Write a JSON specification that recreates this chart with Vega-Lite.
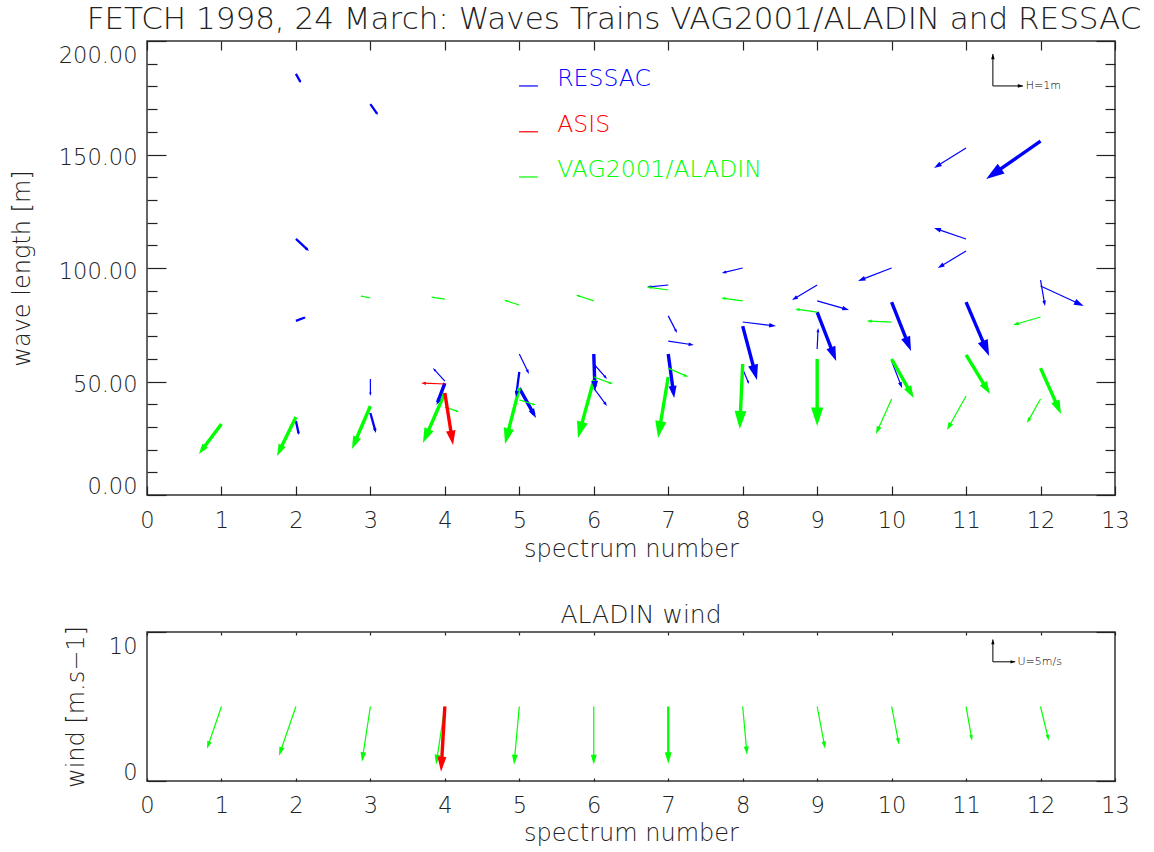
{
  "$schema": "https://vega.github.io/schema/vega-lite/v6.json",
  "padding": {"left": 9, "top": 3, "right": 5, "bottom": 3},
  "spacing": 38,
  "config": {
    "font": "DejaVu Sans",
    "view": {"stroke": "#333", "strokeWidth": 1.5},
    "axis": {"domain": false, "grid": false, "tickColor": "#222", "tickWidth": 1.2, "labelFontSize": 22.5, "labelColor": "#222", "labelFontWeight": 200, "titleFontSize": 24, "titleFontWeight": 200, "titleColor": "#222"},
    "title": {"fontWeight": 200, "color": "#222"},
    "text": {"fontWeight": 200}
  },
  "datasets": {
    "waves": [
      {"src": "RESSAC", "x": 2, "y": 185.5, "x2": 2.068, "y2": 181.5, "w": 2},
      {"src": "RESSAC", "x": 2, "y": 112.8, "x2": 2.176, "y2": 107.5, "w": 2},
      {"src": "RESSAC", "x": 2, "y": 76.7, "x2": 2.135, "y2": 78.4, "w": 2},
      {"src": "RESSAC", "x": 2, "y": 32.6, "x2": 2.041, "y2": 26.4, "w": 2},
      {"src": "RESSAC", "x": 3, "y": 172.2, "x2": 3.102, "y2": 167.4, "w": 2},
      {"src": "RESSAC", "x": 3, "y": 51.1, "x2": 3.0, "y2": 43.6, "w": 1},
      {"src": "RESSAC", "x": 3, "y": 36.1, "x2": 3.075, "y2": 27.3, "w": 2},
      {"src": "RESSAC", "x": 4, "y": 50.2, "x2": 3.84, "y2": 55.9, "w": 1},
      {"src": "RESSAC", "x": 4, "y": 49.3, "x2": 3.89, "y2": 39.6, "w": 3},
      {"src": "RESSAC", "x": 5, "y": 62.1, "x2": 5.13, "y2": 53.3, "w": 1},
      {"src": "RESSAC", "x": 5, "y": 54.2, "x2": 4.956, "y2": 43.2, "w": 2},
      {"src": "RESSAC", "x": 5, "y": 47.1, "x2": 5.224, "y2": 33.9, "w": 3},
      {"src": "RESSAC", "x": 6, "y": 62.1, "x2": 6.017, "y2": 45.8, "w": 3},
      {"src": "RESSAC", "x": 6, "y": 57.7, "x2": 6.178, "y2": 51.1, "w": 1},
      {"src": "RESSAC", "x": 6, "y": 47.1, "x2": 6.178, "y2": 39.2, "w": 1},
      {"src": "RESSAC", "x": 7, "y": 78.9, "x2": 7.118, "y2": 71.4, "w": 1},
      {"src": "RESSAC", "x": 7, "y": 67.8, "x2": 7.344, "y2": 66.1, "w": 1},
      {"src": "RESSAC", "x": 7, "y": 62.1, "x2": 7.08, "y2": 42.7, "w": 3},
      {"src": "RESSAC", "x": 7, "y": 92.5, "x2": 6.715, "y2": 91.6, "w": 1},
      {"src": "RESSAC", "x": 8, "y": 76.2, "x2": 8.447, "y2": 74.4, "w": 1},
      {"src": "RESSAC", "x": 8, "y": 74.4, "x2": 8.192, "y2": 50.7, "w": 3},
      {"src": "RESSAC", "x": 8, "y": 55.5, "x2": 8.085, "y2": 48.9, "w": 1},
      {"src": "RESSAC", "x": 8, "y": 100.0, "x2": 7.72, "y2": 97.8, "w": 1},
      {"src": "RESSAC", "x": 9, "y": 92.5, "x2": 8.662, "y2": 85.9, "w": 1},
      {"src": "RESSAC", "x": 9, "y": 85.5, "x2": 9.428, "y2": 81.5, "w": 1},
      {"src": "RESSAC", "x": 9, "y": 80.6, "x2": 9.255, "y2": 59.0, "w": 3},
      {"src": "RESSAC", "x": 9, "y": 64.3, "x2": 9.013, "y2": 73.6, "w": 1},
      {"src": "RESSAC", "x": 10, "y": 100.0, "x2": 9.549, "y2": 94.3, "w": 1},
      {"src": "RESSAC", "x": 10, "y": 85.0, "x2": 10.26, "y2": 63.4, "w": 3},
      {"src": "RESSAC", "x": 10, "y": 59.0, "x2": 10.14, "y2": 47.1, "w": 1},
      {"src": "RESSAC", "x": 11, "y": 152.9, "x2": 10.57, "y2": 144.1, "w": 1},
      {"src": "RESSAC", "x": 11, "y": 112.8, "x2": 10.57, "y2": 117.6, "w": 1},
      {"src": "RESSAC", "x": 11, "y": 107.5, "x2": 10.62, "y2": 100.0, "w": 1},
      {"src": "RESSAC", "x": 11, "y": 85.0, "x2": 11.31, "y2": 61.2, "w": 3},
      {"src": "RESSAC", "x": 12, "y": 155.9, "x2": 11.27, "y2": 139.2, "w": 3},
      {"src": "RESSAC", "x": 12, "y": 94.7, "x2": 12.06, "y2": 83.3, "w": 1},
      {"src": "RESSAC", "x": 12, "y": 92.1, "x2": 12.58, "y2": 83.3, "w": 1},
      {"src": "VAG2001/ALADIN", "x": 1, "y": 31.3, "x2": 0.698, "y2": 18.1, "w": 3},
      {"src": "VAG2001/ALADIN", "x": 2, "y": 34.4, "x2": 1.746, "y2": 17.2, "w": 3},
      {"src": "VAG2001/ALADIN", "x": 3, "y": 39.2, "x2": 2.753, "y2": 20.3, "w": 3},
      {"src": "VAG2001/ALADIN", "x": 3, "y": 86.8, "x2": 2.861, "y2": 87.7, "w": 1},
      {"src": "VAG2001/ALADIN", "x": 4, "y": 44.9, "x2": 3.706, "y2": 22.9, "w": 3},
      {"src": "VAG2001/ALADIN", "x": 4, "y": 38.8, "x2": 4.19, "y2": 36.6, "w": 1},
      {"src": "VAG2001/ALADIN", "x": 4, "y": 86.3, "x2": 3.813, "y2": 87.2, "w": 1},
      {"src": "VAG2001/ALADIN", "x": 5, "y": 47.1, "x2": 4.808, "y2": 22.5, "w": 3},
      {"src": "VAG2001/ALADIN", "x": 5, "y": 41.9, "x2": 5.224, "y2": 39.6, "w": 1},
      {"src": "VAG2001/ALADIN", "x": 5, "y": 83.7, "x2": 4.795, "y2": 85.9, "w": 1},
      {"src": "VAG2001/ALADIN", "x": 6, "y": 50.7, "x2": 5.788, "y2": 25.1, "w": 3},
      {"src": "VAG2001/ALADIN", "x": 6, "y": 52.0, "x2": 6.258, "y2": 48.9, "w": 1},
      {"src": "VAG2001/ALADIN", "x": 6, "y": 85.5, "x2": 5.761, "y2": 88.1, "w": 1},
      {"src": "VAG2001/ALADIN", "x": 7, "y": 52.0, "x2": 6.863, "y2": 25.1, "w": 3},
      {"src": "VAG2001/ALADIN", "x": 7, "y": 55.9, "x2": 7.268, "y2": 52.0, "w": 1},
      {"src": "VAG2001/ALADIN", "x": 7, "y": 90.3, "x2": 6.715, "y2": 91.6, "w": 1},
      {"src": "VAG2001/ALADIN", "x": 8, "y": 57.7, "x2": 7.96, "y2": 29.1, "w": 3},
      {"src": "VAG2001/ALADIN", "x": 8, "y": 85.5, "x2": 7.709, "y2": 86.8, "w": 1},
      {"src": "VAG2001/ALADIN", "x": 9, "y": 59.9, "x2": 9.0, "y2": 30.4, "w": 3},
      {"src": "VAG2001/ALADIN", "x": 9, "y": 80.6, "x2": 8.703, "y2": 81.9, "w": 1},
      {"src": "VAG2001/ALADIN", "x": 10, "y": 59.9, "x2": 10.296, "y2": 42.7, "w": 3},
      {"src": "VAG2001/ALADIN", "x": 10, "y": 76.2, "x2": 9.664, "y2": 76.7, "w": 1},
      {"src": "VAG2001/ALADIN", "x": 10, "y": 42.3, "x2": 9.79, "y2": 26.9, "w": 1},
      {"src": "VAG2001/ALADIN", "x": 11, "y": 61.7, "x2": 11.32, "y2": 44.5, "w": 3},
      {"src": "VAG2001/ALADIN", "x": 11, "y": 43.6, "x2": 10.744, "y2": 28.6, "w": 1},
      {"src": "VAG2001/ALADIN", "x": 12, "y": 55.9, "x2": 12.275, "y2": 35.7, "w": 3},
      {"src": "VAG2001/ALADIN", "x": 12, "y": 42.3, "x2": 11.818, "y2": 31.7, "w": 1},
      {"src": "VAG2001/ALADIN", "x": 12, "y": 78.4, "x2": 11.63, "y2": 74.9, "w": 1},
      {"src": "ASIS", "x": 4, "y": 48.9, "x2": 3.68, "y2": 49.3, "w": 1},
      {"src": "ASIS", "x": 4, "y": 44.9, "x2": 4.11, "y2": 22.0, "w": 3}
    ],
    "wind": [
      {"src": "VAG2001/ALADIN", "x": 1, "y": 5, "x2": 0.806, "y2": 2.17, "w": 1},
      {"src": "VAG2001/ALADIN", "x": 2, "y": 5, "x2": 1.773, "y2": 1.7, "w": 1},
      {"src": "VAG2001/ALADIN", "x": 3, "y": 5, "x2": 2.887, "y2": 1.3, "w": 1},
      {"src": "VAG2001/ALADIN", "x": 4, "y": 5, "x2": 3.882, "y2": 1.1, "w": 1},
      {"src": "VAG2001/ALADIN", "x": 5, "y": 5, "x2": 4.929, "y2": 1.1, "w": 1},
      {"src": "VAG2001/ALADIN", "x": 6, "y": 5, "x2": 6.0, "y2": 1.1, "w": 1},
      {"src": "VAG2001/ALADIN", "x": 7, "y": 5, "x2": 7.0, "y2": 1.16, "w": 2},
      {"src": "VAG2001/ALADIN", "x": 8, "y": 5, "x2": 8.058, "y2": 1.76, "w": 1},
      {"src": "VAG2001/ALADIN", "x": 9, "y": 5, "x2": 9.107, "y2": 2.17, "w": 1},
      {"src": "VAG2001/ALADIN", "x": 10, "y": 5, "x2": 10.1, "y2": 2.44, "w": 1},
      {"src": "VAG2001/ALADIN", "x": 11, "y": 5, "x2": 11.08, "y2": 2.7, "w": 1},
      {"src": "VAG2001/ALADIN", "x": 12, "y": 5, "x2": 12.11, "y2": 2.7, "w": 1},
      {"src": "ASIS", "x": 4, "y": 5, "x2": 3.949, "y2": 0.62, "w": 3}
    ],
    "legend": [
      {"src": "RESSAC", "lx": 4.996, "lx2": 5.25, "tx": 5.51, "ly": 180.2},
      {"src": "ASIS", "lx": 4.996, "lx2": 5.25, "tx": 5.51, "ly": 160.0},
      {"src": "VAG2001/ALADIN", "lx": 4.996, "lx2": 5.25, "tx": 5.51, "ly": 140.1}
    ],
    "keyTop": [
      {"x": 11.36, "y": 180.2, "x2": 11.36, "y2": 194.3},
      {"x": 11.36, "y": 180.2, "x2": 11.765, "y2": 180.2}
    ],
    "keyBottom": [
      {"x": 11.36, "y": 8.0, "x2": 11.36, "y2": 9.5},
      {"x": 11.36, "y": 8.0, "x2": 11.66, "y2": 8.0}
    ],
    "keyTopLabel": [{"label": "H=1m", "x": 11.8, "y": 180.2}],
    "keyBottomLabel": [{"label": "U=5m/s", "x": 11.69, "y": 8.0}]
  },
  "vconcat": [
    {
      "width": 968,
      "height": 454,
      "title": {"text": "FETCH 1998, 24 March: Waves Trains VAG2001/ALADIN and RESSAC", "fontSize": 31, "baseline": "alphabetic", "offset": -20, "dx": -17},
      "resolve": {"axis": {"x": "independent", "y": "independent"}},
      "layer": [
        {
          "data": {"name": "waves"},
          "transform": [
            {"calculate": "datum.x2 - (datum.x2 - datum.x) * 0.12", "as": "xe"},
            {"calculate": "datum.y2 - (datum.y2 - datum.y) * 0.12", "as": "ye"}
          ],
          "mark": {"type": "rule", "strokeCap": "butt"},
          "encoding": {
            "x": {"field": "x", "type": "quantitative", "scale": {"domain": [0, 13], "nice": false, "zero": false},
              "axis": {"orient": "bottom", "values": [0,1,2,3,4,5,6,7,8,9,10,11,12,13], "tickSize": -9, "labelPadding": 23, "title": "spectrum number", "titlePadding": 6, "labelFlush": false}},
            "y": {"field": "y", "type": "quantitative", "scale": {"domain": [0, 200], "nice": false},
              "axis": {"orient": "left", "values": [0,10,20,30,40,50,60,70,80,90,100,110,120,130,140,150,160,170,180,190,200],
                "tickSize": {"condition": {"test": "datum.value % 50 === 0", "value": -19}, "value": -10},
                "labelExpr": "datum.value % 50 === 0 ? format(datum.value, '.2f') : ''", "labelPadding": 29, "labelFlush": true, "labelOffset": 3, "title": "wave length [m]", "titlePadding": 24}},
            "x2": {"field": "xe"},
            "y2": {"field": "ye"},
            "color": {"field": "src", "type": "nominal", "scale": {"domain": ["RESSAC", "ASIS", "VAG2001/ALADIN"], "range": ["#0000ff", "#ff0000", "#00ff00"]}, "legend": null},
            "strokeWidth": {"field": "w", "type": "quantitative", "scale": {"domain": [1, 3], "range": [1.2, 3.4]}, "legend": null}
          }
        },
        {
          "data": {"name": "waves"},
          "transform": [
            {"calculate": "(datum.x2 - datum.x) * 968 / 13", "as": "dxp"},
            {"calculate": "(datum.y2 - datum.y) * 454 / 200", "as": "dyp"},
            {"calculate": "atan2(datum.dxp, datum.dyp) * 180 / PI", "as": "ang"},
            {"calculate": "pow(sqrt(datum.dxp * datum.dxp + datum.dyp * datum.dyp) * (0.17 + 0.035 * datum.w), 2) * 4", "as": "hs"}
          ],
          "mark": {"type": "point", "shape": "M0,0L-0.33,1L0.33,1Z", "filled": true, "opacity": 1, "strokeWidth": 0},
          "encoding": {
            "x": {"field": "x2", "type": "quantitative", "axis": null},
            "y": {"field": "y2", "type": "quantitative", "axis": null},
            "angle": {"field": "ang", "type": "quantitative", "scale": null},
            "size": {"field": "hs", "type": "quantitative", "scale": null},
            "color": {"field": "src", "type": "nominal", "legend": null}
          }
        },
        {
          "data": {"name": "legend"},
          "mark": {"type": "rule", "strokeWidth": 1.2},
          "encoding": {
            "x": {"field": "lx", "type": "quantitative", "axis": null},
            "x2": {"field": "lx2"},
            "y": {"field": "ly", "type": "quantitative", "axis": null},
            "color": {"field": "src", "type": "nominal", "legend": null}
          }
        },
        {
          "data": {"name": "legend"},
          "mark": {"type": "text", "align": "left", "baseline": "alphabetic", "fontSize": 23.5},
          "encoding": {
            "x": {"field": "tx", "type": "quantitative", "axis": null},
            "y": {"field": "ly", "type": "quantitative", "axis": null},
            "text": {"field": "src"},
            "color": {"field": "src", "type": "nominal", "legend": null}
          }
        },
        {
          "data": {"name": "keyTop"},
          "mark": {"type": "rule", "color": "#000", "strokeWidth": 1},
          "encoding": {
            "x": {"field": "x", "type": "quantitative", "axis": null},
            "y": {"field": "y", "type": "quantitative", "axis": null},
            "x2": {"field": "x2"},
            "y2": {"field": "y2"}
          }
        },
        {
          "data": {"name": "keyTop"},
          "transform": [
            {"calculate": "(datum.x2 - datum.x) * 968 / 13", "as": "dxp"},
            {"calculate": "(datum.y2 - datum.y) * 454 / 200", "as": "dyp"},
            {"calculate": "atan2(datum.dxp, datum.dyp) * 180 / PI", "as": "ang"}
          ],
          "mark": {"type": "point", "shape": "M0,0L-0.35,1L0.35,1Z", "filled": true, "opacity": 1, "strokeWidth": 0, "color": "#000", "size": 110},
          "encoding": {
            "x": {"field": "x2", "type": "quantitative", "axis": null},
            "y": {"field": "y2", "type": "quantitative", "axis": null},
            "angle": {"field": "ang", "type": "quantitative", "scale": null}
          }
        },
        {
          "data": {"name": "keyTopLabel"},
          "mark": {"type": "text", "align": "left", "baseline": "middle", "fontSize": 11, "color": "#000"},
          "encoding": {
            "x": {"field": "x", "type": "quantitative", "axis": null},
            "y": {"field": "y", "type": "quantitative", "axis": null},
            "text": {"field": "label"}
          }
        },
        {
          "data": {"name": "waves"},
          "mark": {"type": "rule", "opacity": 0},
          "encoding": {
            "x": {"field": "x", "type": "quantitative",
              "axis": {"orient": "top", "values": [0,1,2,3,4,5,6,7,8,9,10,11,12,13], "tickSize": -9, "labels": false, "title": null}},
            "y": {"field": "y", "type": "quantitative",
              "axis": {"orient": "right", "values": [0,10,20,30,40,50,60,70,80,90,100,110,120,130,140,150,160,170,180,190,200],
                "tickSize": {"condition": {"test": "datum.value % 50 === 0", "value": -19}, "value": -10}, "labels": false, "title": null}}
          }
        }
      ]
    },
    {
      "width": 968,
      "height": 149,
      "title": {"text": "ALADIN wind", "fontSize": 25, "baseline": "alphabetic", "offset": -22, "dx": 10},
      "resolve": {"axis": {"x": "independent", "y": "independent"}},
      "layer": [
        {
          "data": {"name": "wind"},
          "transform": [
            {"calculate": "datum.x2 - (datum.x2 - datum.x) * 0.12", "as": "xe"},
            {"calculate": "datum.y2 - (datum.y2 - datum.y) * 0.12", "as": "ye"}
          ],
          "mark": {"type": "rule", "strokeCap": "butt"},
          "encoding": {
            "x": {"field": "x", "type": "quantitative", "scale": {"domain": [0, 13], "nice": false, "zero": false},
              "axis": {"orient": "bottom", "values": [0,1,2,3,4,5,6,7,8,9,10,11,12,13], "tickSize": -3, "labelPadding": 16, "labelFlush": false, "title": "spectrum number", "titlePadding": 5}},
            "y": {"field": "y", "type": "quantitative", "scale": {"domain": [0, 10], "nice": false},
              "axis": {"orient": "left", "values": [0, 10], "tickSize": -19, "labelPadding": 29, "labelFlush": true, "labelOffset": 3, "title": "wind [m.s−1]", "titlePadding": 20}},
            "x2": {"field": "xe"},
            "y2": {"field": "ye"},
            "color": {"field": "src", "type": "nominal", "scale": {"domain": ["RESSAC", "ASIS", "VAG2001/ALADIN"], "range": ["#0000ff", "#ff0000", "#00ff00"]}, "legend": null},
            "strokeWidth": {"field": "w", "type": "quantitative", "scale": {"domain": [1, 3], "range": [1.2, 3.4]}, "legend": null}
          }
        },
        {
          "data": {"name": "wind"},
          "transform": [
            {"calculate": "(datum.x2 - datum.x) * 968 / 13", "as": "dxp"},
            {"calculate": "(datum.y2 - datum.y) * 149 / 10", "as": "dyp"},
            {"calculate": "atan2(datum.dxp, datum.dyp) * 180 / PI", "as": "ang"},
            {"calculate": "pow(sqrt(datum.dxp * datum.dxp + datum.dyp * datum.dyp) * (0.14 + 0.03 * datum.w), 2) * 4", "as": "hs"}
          ],
          "mark": {"type": "point", "shape": "M0,0L-0.3,1L0.3,1Z", "filled": true, "opacity": 1, "strokeWidth": 0},
          "encoding": {
            "x": {"field": "x2", "type": "quantitative", "axis": null},
            "y": {"field": "y2", "type": "quantitative", "axis": null},
            "angle": {"field": "ang", "type": "quantitative", "scale": null},
            "size": {"field": "hs", "type": "quantitative", "scale": null},
            "color": {"field": "src", "type": "nominal", "legend": null}
          }
        },
        {
          "data": {"name": "keyBottom"},
          "mark": {"type": "rule", "color": "#000", "strokeWidth": 1},
          "encoding": {
            "x": {"field": "x", "type": "quantitative", "axis": null},
            "y": {"field": "y", "type": "quantitative", "axis": null},
            "x2": {"field": "x2"},
            "y2": {"field": "y2"}
          }
        },
        {
          "data": {"name": "keyBottom"},
          "transform": [
            {"calculate": "(datum.x2 - datum.x) * 968 / 13", "as": "dxp"},
            {"calculate": "(datum.y2 - datum.y) * 149 / 10", "as": "dyp"},
            {"calculate": "atan2(datum.dxp, datum.dyp) * 180 / PI", "as": "ang"}
          ],
          "mark": {"type": "point", "shape": "M0,0L-0.35,1L0.35,1Z", "filled": true, "opacity": 1, "strokeWidth": 0, "color": "#000", "size": 90},
          "encoding": {
            "x": {"field": "x2", "type": "quantitative", "axis": null},
            "y": {"field": "y2", "type": "quantitative", "axis": null},
            "angle": {"field": "ang", "type": "quantitative", "scale": null}
          }
        },
        {
          "data": {"name": "keyBottomLabel"},
          "mark": {"type": "text", "align": "left", "baseline": "middle", "fontSize": 11, "color": "#000"},
          "encoding": {
            "x": {"field": "x", "type": "quantitative", "axis": null},
            "y": {"field": "y", "type": "quantitative", "axis": null},
            "text": {"field": "label"}
          }
        },
        {
          "data": {"name": "wind"},
          "mark": {"type": "rule", "opacity": 0},
          "encoding": {
            "x": {"field": "x", "type": "quantitative",
              "axis": {"orient": "top", "values": [0,1,2,3,4,5,6,7,8,9,10,11,12,13], "tickSize": -3, "labels": false, "title": null}},
            "y": {"field": "y", "type": "quantitative",
              "axis": {"orient": "right", "values": [0, 10], "tickSize": -19, "labels": false, "title": null}}
          }
        }
      ]
    }
  ]
}
